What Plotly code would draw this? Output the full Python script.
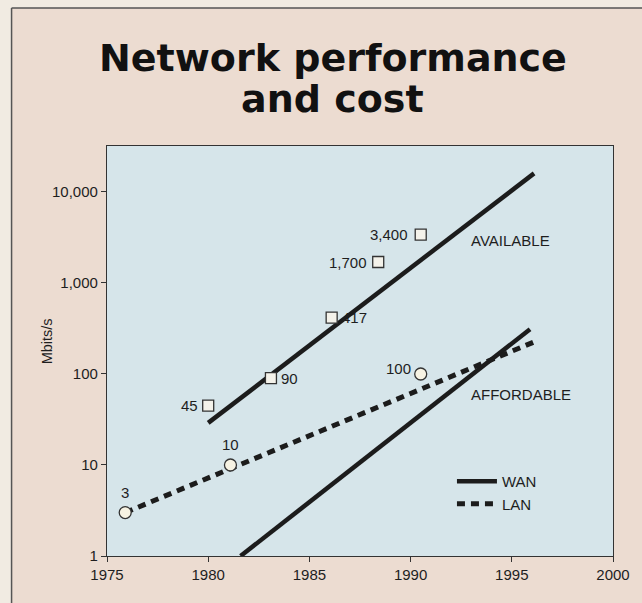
import math
import plotly.graph_objects as go

# Trend lines (year, Mbits/s)
wan_available_years = [1980.0, 1996.1]
wan_available_vals = [29, 16000]
wan_affordable_years = [1981.6, 1995.9]
wan_affordable_vals = [1, 310]
lan_years = [1975.9, 1996.1]
lan_vals = [3, 225]

# Labelled data points
wan_point_years = [1980.0, 1983.1, 1986.1, 1988.4, 1990.5]
wan_point_vals = [45, 90, 417, 1700, 3400]
wan_point_labels = ["45", "90", "417", "1,700", "3,400"]
lan_point_years = [1975.9, 1981.1, 1990.5]
lan_point_vals = [3, 10, 100]
lan_point_labels = ["3", "10", "100"]

x_ticks = [1975, 1980, 1985, 1990, 1995, 2000]
y_ticks = [1, 10, 100, 1000, 10000]
y_tick_labels = ["1", "10", "100", "1,000", "10,000"]

W, H = 642, 603
L, R, T, B = 107, 616, 146, 556


def px(x):
    return (x - L) / (R - L)


def py(y):
    return (B - y) / (B - T)


INK = "#1c1c1c"
PAPER = "#ecdcd1"
OUTER = "#f1ebe2"
PLOT_BG = "#d6e5ea"
FONT = "Liberation Sans, Arial, sans-serif"
TXT = "#1e1e1e"

fig = go.Figure()

fig.add_trace(go.Scatter(x=wan_available_years, y=wan_available_vals, mode="lines",
                         line=dict(color=INK, width=4.5), name="WAN", showlegend=True))
fig.add_trace(go.Scatter(x=wan_affordable_years, y=wan_affordable_vals, mode="lines",
                         line=dict(color=INK, width=4.5), showlegend=False))
fig.add_trace(go.Scatter(x=lan_years, y=lan_vals, mode="lines",
                         line=dict(color=INK, width=5, dash="8px,6px"), name="LAN", showlegend=True))
fig.add_trace(go.Scatter(x=wan_point_years, y=wan_point_vals, mode="markers",
                         marker=dict(symbol="square", size=11, color="#f4f2ea",
                                     line=dict(color="#333", width=1.3)), showlegend=False))
fig.add_trace(go.Scatter(x=lan_point_years, y=lan_point_vals, mode="markers",
                         marker=dict(symbol="circle", size=12, color="#f7f3e3",
                                     line=dict(color="#333", width=1.3)), showlegend=False))

annotations = []
# value labels beside markers: (xanchor, xshift, yshift); log axis -> log10 positions
wan_offsets = [("right", -8, 0), ("left", 8, 0), ("left", 8, 0), ("right", -9, 0), ("right", -11, 0)]
for xv, yv, txt, (anc, dx, dy) in zip(wan_point_years, wan_point_vals, wan_point_labels, wan_offsets):
    annotations.append(dict(x=xv, y=math.log10(yv), yref="y", xref="x", text=txt, showarrow=False,
                            xanchor=anc, yanchor="middle", xshift=dx, yshift=dy,
                            font=dict(family=FONT, size=15, color=TXT)))
lan_offsets = [("center", 0, 20), ("center", 0, 20), ("right", -8, 5)]
for xv, yv, txt, (anc, dx, dy) in zip(lan_point_years, lan_point_vals, lan_point_labels, lan_offsets):
    annotations.append(dict(x=xv, y=math.log10(yv), yref="y", xref="x", text=txt, showarrow=False,
                            xanchor=anc, yanchor="middle", xshift=dx, yshift=dy,
                            font=dict(family=FONT, size=15, color=TXT)))

annotations.append(dict(x=1992.9, y=math.log10(2960), xref="x", yref="y", text="AVAILABLE",
                        showarrow=False, xanchor="left", yanchor="middle",
                        font=dict(family=FONT, size=15, color=TXT)))
annotations.append(dict(x=1992.9, y=math.log10(60), xref="x", yref="y", text="AFFORDABLE",
                        showarrow=False, xanchor="left", yanchor="middle",
                        font=dict(family=FONT, size=15, color=TXT)))

# Title, two lines
for txt, yc in [("Network performance", 58), ("and cost", 99)]:
    annotations.append(dict(x=px(334), y=py(yc), xref="paper", yref="paper", text=txt,
                            showarrow=False, xanchor="center", yanchor="middle",
                            font=dict(family="DejaVu Sans, sans-serif", size=38,
                                      color="#111", weight="bold")))

annotations.append(dict(x=px(47), y=py(341), xref="paper", yref="paper", text="Mbits/s",
                        showarrow=False, textangle=-90, xanchor="center", yanchor="middle",
                        font=dict(family=FONT, size=14.5, color=TXT)))

shapes = [
    # lighter margin outside the frame
    dict(type="rect", xref="paper", yref="paper", x0=px(-5), x1=px(W + 5), y0=py(8), y1=py(-5),
         fillcolor=OUTER, line=dict(width=0), layer="below"),
    dict(type="rect", xref="paper", yref="paper", x0=px(-5), x1=px(11), y0=py(H + 5), y1=py(-5),
         fillcolor=OUTER, line=dict(width=0), layer="below"),
    # frame rules
    dict(type="line", xref="paper", yref="paper", x0=px(11), x1=px(W + 5), y0=py(8), y1=py(8),
         line=dict(color="#555", width=1.5)),
    dict(type="line", xref="paper", yref="paper", x0=px(11), x1=px(11), y0=py(8), y1=py(H + 5),
         line=dict(color="#555", width=1.5)),
]

fig.update_layout(
    width=W, height=H,
    margin=dict(l=L, r=W - R, t=T, b=H - B, pad=0),
    paper_bgcolor=PAPER, plot_bgcolor=PLOT_BG,
    annotations=annotations, shapes=shapes,
    legend=dict(x=px(454), y=py(465), xanchor="left", yanchor="top",
                bgcolor="rgba(0,0,0,0)", font=dict(family=FONT, size=15, color=TXT),
                itemwidth=40, tracegroupgap=0),
    font=dict(family=FONT, color=TXT),
)
fig.update_xaxes(range=[1975, 2000], tickvals=x_ticks, ticks="outside", ticklen=5,
                 tickcolor="#333", showline=True, linecolor="#333", linewidth=1.2, mirror=True,
                 showgrid=False, zeroline=False, tickfont=dict(family=FONT, size=15, color=TXT))
fig.update_yaxes(type="log", range=[0, 4.505], tickvals=y_ticks, ticktext=y_tick_labels,
                 ticks="outside", ticklen=5, tickcolor="#333", showline=True, linecolor="#333",
                 linewidth=1.2, mirror=True, showgrid=False, zeroline=False,
                 tickfont=dict(family=FONT, size=15, color=TXT))

fig.write_html("out.html")
